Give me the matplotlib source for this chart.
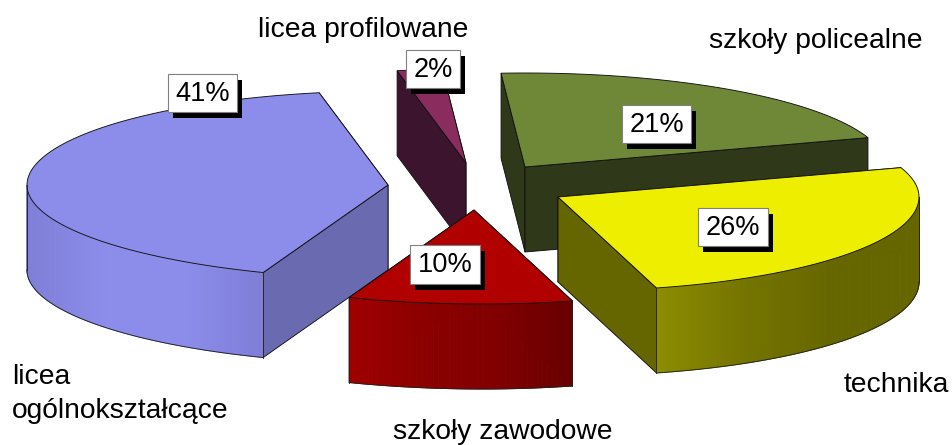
import numpy as np
import matplotlib
matplotlib.use("Agg")
import matplotlib.pyplot as plt
from matplotlib.colors import to_rgb
from matplotlib.patches import Polygon, Rectangle

plt.rcParams['font.family'] = ['Liberation Sans', 'DejaVu Sans']

# dane wykresu
categories = ["licea\nogólnokształcące", "szkoły zawodowe", "technika",
              "szkoły policealne", "licea profilowane"]
shares = [41, 10, 26, 21, 2]

# wyglad: kolejne wycinki
explode_x = [-82, 4, 88, 55, -4]
explode_y = [-5, 20, 7, -23, -27]
top_colors = ["#8c8ceb", "#b00000", "#eeee00", "#6f8838", "#8b2c5f"]
cut_colors = ["#6a6ab0", "#7a0000", "#666600", "#30381a", "#3d142e"]
rim_colors = [["#7f7fd8", "#8c8ceb", "#8c8ceb", "#7e7ed6"],
              ["#a00000", "#8c0000", "#800000", "#680000"],
              ["#8c8c00", "#747400", "#666600", "#666600"],
              ["#30381a", "#30381a"],
              ["#3d142e", "#3d142e"]]
label_boxes = [(168, 74, 69, 38), (410, 245, 70, 39), (698, 208, 70, 38),
               (622, 105, 69, 38), (406, 50, 54, 38)]
name_pos = [(12, 394), (503, 432), (896, 385), (816, 41), (363, 30)]
name_align = ["left", "center", "center", "center", "center"]
draw_order = [4, 3, 0, 2, 1]

center_x, center_y = 470, 190
radius_x, radius_y = 361, 94
depth = 85
start_angle = 101

fig = plt.figure(figsize=(9.52, 4.45), dpi=100)
ax = fig.add_axes([0, 0, 1, 1])
ax.set_xlim(0, 952)
ax.set_ylim(445, 0)
ax.axis("off")


def ring_point(x0, y0, t):
    s = np.sin(t)
    # lekka perspektywa: przod pierscienia przesuniety w prawo
    return x0 + radius_x * np.cos(t) + 8 * np.where(s < 0, s * s, 0), y0 - radius_y * s


def draw_slice(i, t1, t2):
    x0 = center_x + explode_x[i]
    y0 = center_y + explode_y[i]
    edge = dict(edgecolor="#111111", linewidth=0.65)

    # sciany przekroju, najpierw tylna
    walls = sorted([t1, t2], key=lambda t: ring_point(x0, y0, t)[1])
    for t in walls:
        x, y = ring_point(x0, y0, t)
        ax.add_patch(Polygon([(x0, y0), (x, y), (x, y + depth), (x0, y0 + depth)],
                             facecolor=cut_colors[i], **edge))

    # sciana zewnetrzna, tylko przednia czesc
    a = max(t1, np.pi)
    b = min(t2, 2 * np.pi)
    if b > a:
        ts = np.linspace(a, b, 90)
        xs, ys = ring_point(x0, y0, ts)
        stops = [np.array(to_rgb(c)) for c in rim_colors[i]]
        pos = np.linspace(0, 1, len(stops))
        for k in range(len(ts) - 1):
            f = (xs[k] - xs[0]) / (xs[-1] - xs[0])
            col = [np.interp(f, pos, [s[n] for s in stops]) for n in range(3)]
            ax.fill([xs[k], xs[k + 1], xs[k + 1], xs[k]],
                    [ys[k], ys[k + 1], ys[k + 1] + depth, ys[k] + depth],
                    facecolor=col, edgecolor=col, linewidth=0.7)
        ax.plot(xs, ys + depth, color="#222222", lw=0.65)
        ax.plot([xs[0], xs[0]], [ys[0], ys[0] + depth], color="#222222", lw=0.65)
        ax.plot([xs[-1], xs[-1]], [ys[-1], ys[-1] + depth], color="#222222", lw=0.65)

    # wierzch
    ts = np.linspace(t1, t2, 120)
    xs, ys = ring_point(x0, y0, ts)
    pts = [(x0, y0)] + list(zip(xs, ys))
    ax.add_patch(Polygon(pts, facecolor=top_colors[i], **edge))


angles = np.radians(start_angle + np.concatenate([[0], np.cumsum(shares)]) * 3.6)
for i in draw_order:
    draw_slice(i, angles[i], angles[i + 1])

# etykiety procentowe z cieniem
for i, v in enumerate(shares):
    x, y, w, h = label_boxes[i]
    ax.add_patch(Rectangle((x + 5, y + 6), w, h, facecolor="black", edgecolor="none"))
    ax.add_patch(Rectangle((x, y), w, h, facecolor="white", edgecolor="#808080", linewidth=0.8))
    ax.text(x + w / 2, y + h / 2 + 1, f"{v}%", fontsize=19.6, ha="center", va="center", color="black")

# nazwy kategorii
for i, name in enumerate(categories):
    x, y = name_pos[i]
    ax.text(x, y, name, fontsize=20.3, ha=name_align[i], va="center",
            color="black", linespacing=1.4)

fig.savefig("out.png", dpi=100)
